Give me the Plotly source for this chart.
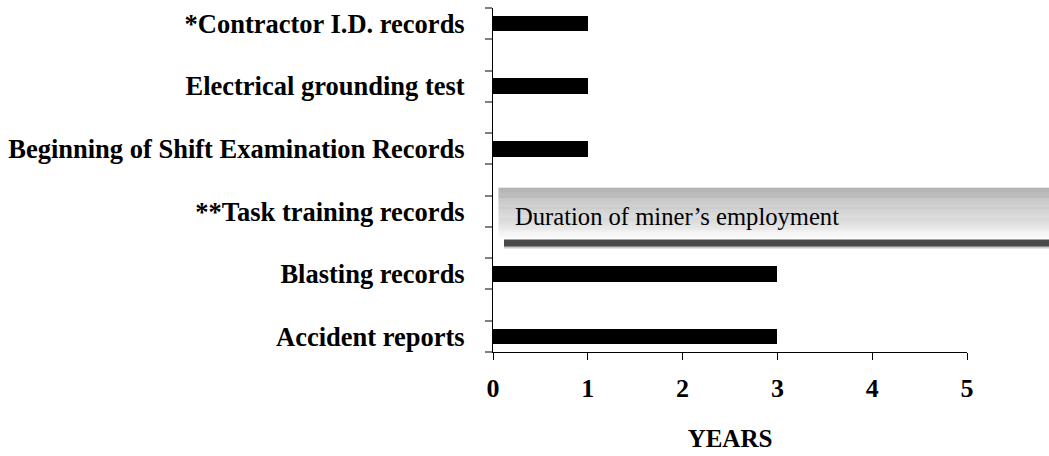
import plotly.graph_objects as go

# Data (bottom to top)
categories = [
    "Accident reports",
    "Blasting records",
    "**Task training records",
    "Beginning of Shift Examination Records",
    "Electrical grounding test",
    "*Contractor I.D. records",
]
years = [3, 3, None, 1, 1, 1]
x_ticks = [0, 1, 2, 3, 4, 5]
note_text = "Duration of miner\u2019s employment"

positions = [2 * i for i in range(len(categories))]

FONT = "Liberation Serif, Times New Roman, serif"

fig = go.Figure()
fig.add_trace(go.Bar(
    y=positions, x=years, orientation="h",
    width=0.5, marker=dict(color="black", line=dict(width=0)),
    hoverinfo="skip",
))

# Gradient box (annotation band) in paper coords
plot_left, plot_right = 493, 966.7
plot_top, plot_bot = 8, 360
ph = plot_bot - plot_top
pw = plot_right - plot_left
def py(p):
    return (plot_bot - p) / ph
def px(p):
    return (p - plot_left) / pw

top_px, bot_px = 192, 244
x_left = px(498.5)
x_right = px(1060)
n = bot_px - top_px
c0, c1 = 162, 250
for k in range(n):
    t = k / (n - 1)
    c = int(round(c0 + (c1 - c0) * t))
    fig.add_shape(type="rect", xref="paper", yref="paper",
                  x0=x_left, x1=x_right, y0=py(top_px + k + 1.05), y1=py(top_px + k),
                  fillcolor=f"rgb({c},{c},{c})", line=dict(width=0), layer="above")
# dark bar below the band
fig.add_shape(type="rect", xref="paper", yref="paper",
              x0=px(504), x1=x_right, y0=py(252.3), y1=py(245),
              fillcolor="#4a4a4a", line=dict(width=0), layer="above")
fig.add_shape(type="rect", xref="paper", yref="paper",
              x0=px(504), x1=x_right, y0=py(254), y1=py(252.3),
              fillcolor="#c8c8c8", line=dict(width=0), layer="above")

fig.add_annotation(xref="paper", yref="paper",
                   x=px(513), y=py(221.5),
                   text=note_text, showarrow=False, xanchor="left", yanchor="middle",
                   font=dict(family=FONT, size=24.6, color="black"))

fig.update_layout(
    width=1049, height=456,
    margin=dict(l=plot_left, r=1049 - plot_right, t=plot_top, b=456 - plot_bot),
    plot_bgcolor="white", paper_bgcolor="white",
    showlegend=False,
    bargap=0,
)
fig.update_xaxes(
    range=[0, 5], tickvals=x_ticks, ticktext=[str(v) for v in x_ticks],
    showgrid=False, zeroline=False,
    showline=True, linecolor="black", linewidth=1,
    ticks="outside", ticklen=7, tickcolor="black", tickwidth=1,
    ticklabelstandoff=6,
    tickfont=dict(family=FONT, size=26, color="black", weight="bold"),
    title=dict(text="YEARS", font=dict(family=FONT, size=25, color="black", weight="bold"),
               standoff=27),
    fixedrange=True,
)
fig.update_yaxes(
    range=[-0.5, 2 * len(categories) - 1.5],
    tickvals=positions, ticktext=categories,
    showgrid=False, zeroline=False,
    showline=True, linecolor="black", linewidth=1,
    ticks="", ticklabelstandoff=22,
    tickfont=dict(family=FONT, size=26.5, color="black", weight="bold"),
    minor=dict(tick0=-0.5, dtick=1, ticks="outside", ticklen=7, tickcolor="#808080",
               tickwidth=1.5, showgrid=False),
    fixedrange=True,
)

fig.write_html("out.html", config={"displayModeBar": False},
               post_script="document.body.style.margin='0';document.body.style.overflow='hidden';")
